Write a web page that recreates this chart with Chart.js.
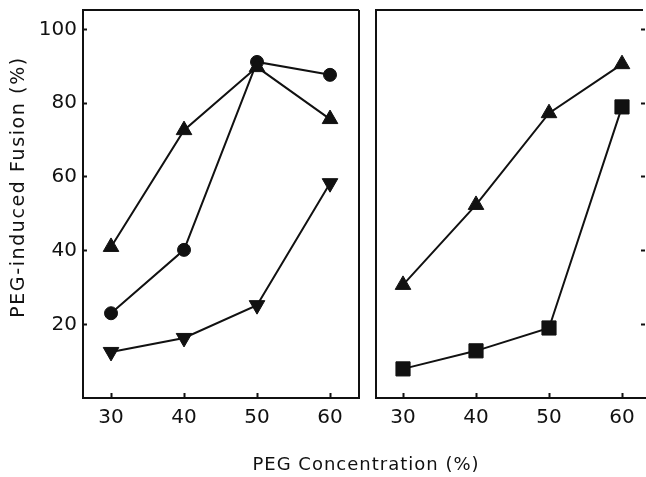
<!DOCTYPE html>
<html>
<head>
<meta charset="utf-8">
<script src="https://cdn.jsdelivr.net/npm/chart.js@4.4.0/dist/chart.umd.min.js"></script>
<style>
  html, body { margin: 0; padding: 0; background: #fff; }
  #wrap { position: relative; width: 646px; height: 477px; }
  #wrap canvas { position: absolute; left: 0; top: 0; }
</style>
</head>
<body>
<div id="wrap">
  <canvas id="leftChart" width="646" height="477"></canvas>
  <canvas id="rightChart" width="646" height="477"></canvas>
</div>
<script>
// data
const concentrations = [30, 40, 50, 60];
const leftTriangleUp = [41, 72.7, 89.8, 75.7];
const leftCircle = [23, 40.2, 91.2, 87.7];
const leftTriangleDown = [12.5, 16.3, 25.2, 58.3];
const rightTriangleUp = [30.7, 52.4, 77.3, 90.6];
const rightSquare = [7.9, 12.8, 19, 79];

const xTicks = [30, 40, 50, 60];
const yTicks = [20, 40, 60, 80, 100];
const xTitle = "PEG Concentration (%)";
const yTitle = "PEG-induced Fusion (%)";

const INK = "#111";
const FONT = "DejaVu Sans";

function series(values, style, radius, rotation) {
  return {
    data: values.map((v, i) => ({ x: concentrations[i], y: v })),
    borderColor: INK,
    borderWidth: 2,
    pointStyle: style,
    pointRadius: radius,
    pointRotation: rotation || 0,
    pointBackgroundColor: INK,
    pointBorderColor: INK,
    pointBorderWidth: 1,
    tension: 0,
    fill: false,
  };
}

// frame lines around the plot area
const framePlugin = {
  id: "frame",
  afterDraw(chart, args, opts) {
    const { ctx, chartArea: a } = chart;
    ctx.save();
    ctx.strokeStyle = INK;
    ctx.lineWidth = 2;
    ctx.beginPath();
    if (opts.right) {
      ctx.moveTo(a.right, a.top);
      ctx.lineTo(a.right, a.bottom);
    }
    ctx.moveTo(a.left, a.bottom);
    ctx.lineTo(a.left, a.top);
    ctx.lineTo(a.right - (opts.right ? 0 : 2), a.top);
    ctx.moveTo(a.left - 1, a.bottom);
    ctx.lineTo(opts.right ? a.right + 1 : 646, a.bottom);
    ctx.stroke();
    ctx.restore();
  },
};

// axis titles, with wider letter spacing
const titlesPlugin = {
  id: "titles",
  afterDraw(chart, args, opts) {
    const ctx = chart.ctx;
    ctx.save();
    ctx.fillStyle = INK;
    ctx.textAlign = "center";
    ctx.textBaseline = "middle";
    if (opts.x) {
      ctx.font = "18px '" + FONT + "'";
      ctx.letterSpacing = "1px";
      ctx.fillText(xTitle, 366, 465);
    }
    if (opts.y) {
      ctx.font = "19px '" + FONT + "'";
      ctx.letterSpacing = "1.6px";
      ctx.translate(19, 187);
      ctx.rotate(-Math.PI / 2);
      ctx.fillText(yTitle, 0, 0);
    }
    ctx.restore();
  },
};

function xScale(min, max) {
  return {
    type: "linear",
    min: min,
    max: max,
    afterBuildTicks: (s) => { s.ticks = xTicks.map((v) => ({ value: v })); },
    afterFit: (s) => {
      s.height = 79;
      s.paddingLeft = 0;
      s.paddingRight = 0;
    },
    border: { display: false },
    grid: { drawOnChartArea: false, tickLength: -5, tickColor: INK, tickWidth: 2 },
    ticks: { color: INK, font: { family: FONT, size: 20 }, padding: 13, maxRotation: 0 },
  };
}

function yScale(position, width, labels) {
  return {
    type: "linear",
    position: position,
    min: 0,
    max: 105.3,
    afterBuildTicks: (s) => { s.ticks = yTicks.map((v) => ({ value: v })); },
    afterFit: (s) => {
      s.width = width;
      s.paddingTop = 0;
      s.paddingBottom = 0;
    },
    border: { display: false },
    grid: { drawOnChartArea: false, tickLength: -4, tickColor: INK, tickWidth: 2 },
    ticks: { display: labels, color: INK, font: { family: FONT, size: 20 }, padding: 10 },
  };
}

new Chart(document.getElementById("leftChart"), {
  type: "line",
  data: {
    datasets: [
      series(leftTriangleUp, "triangle", 9),
      series(leftCircle, "circle", 6.5),
      series(leftTriangleDown, "triangle", 9, 180),
    ],
  },
  options: {
    responsive: false,
    animation: false,
    layout: { autoPadding: false, padding: { left: 0, right: 287, top: 10, bottom: 0 } },
    scales: {
      x: xScale(26.16, 63.97),
      y: yScale("left", 83, true),
    },
    plugins: {
      legend: { display: false },
      tooltip: { enabled: false },
      frame: { right: true },
      titles: { y: true },
    },
  },
  plugins: [framePlugin, titlesPlugin],
});

new Chart(document.getElementById("rightChart"), {
  type: "line",
  data: {
    datasets: [
      series(rightTriangleUp, "triangle", 9),
      series(rightSquare, "rect", 10),
    ],
  },
  options: {
    responsive: false,
    animation: false,
    layout: { autoPadding: false, padding: { left: 376, right: 1, top: 10, bottom: 0 } },
    scales: {
      x: xScale(26.3, 63.15),
      y: yScale("right", 0, false),
    },
    plugins: {
      legend: { display: false },
      tooltip: { enabled: false },
      frame: { right: false },
      titles: { x: true },
    },
  },
  plugins: [framePlugin, titlesPlugin],
});
</script>
</body>
</html>
